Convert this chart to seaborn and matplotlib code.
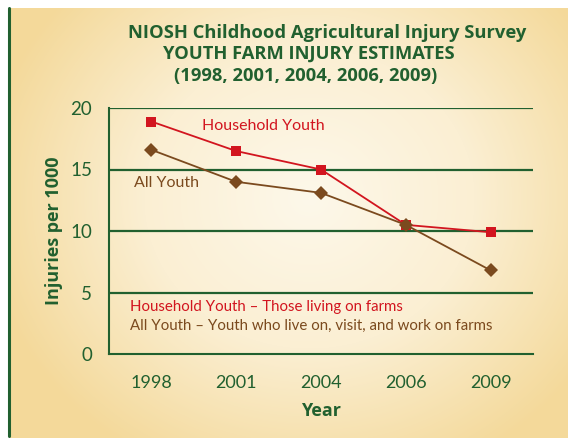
import numpy as np
import pandas as pd
import matplotlib
matplotlib.use('Agg')
import matplotlib.pyplot as plt
from matplotlib.colors import LinearSegmentedColormap
from matplotlib.lines import Line2D
import seaborn as sns

# data
years = ['1998', '2001', '2004', '2006', '2009']
household_youth = [18.9, 16.5, 15.0, 10.5, 9.9]
all_youth = [16.6, 14.0, 13.1, 10.5, 6.8]

GREEN = '#21602f'
RED = '#d2151f'
BROWN = '#7b4a1e'

df = pd.DataFrame({
    'Year': years * 2,
    'Rate': household_youth + all_youth,
    'Group': ['Household Youth'] * 5 + ['All Youth'] * 5,
})

sns.set_style('white')
plt.rcParams['font.family'] = ['Lato', 'DejaVu Sans']

fig = plt.figure(figsize=(5.68, 4.38), dpi=100)
W, H = 568, 438

# radial cream -> tan background
bg = fig.add_axes([9 / W, 0, 1 - 9 / W, 1 - 8 / H], zorder=-10)
yy, xx = np.mgrid[0:430, 0:559]
d = np.sqrt(((xx - 300) / 330.0) ** 2 + ((yy - 190) / 300.0) ** 2)
cmap = LinearSegmentedColormap.from_list('bg', ['#fdf8ea', '#fbefd3', '#f4d99a'])
bg.imshow(np.clip(d, 0, 1), cmap=cmap, aspect='auto', vmin=0, vmax=1)
bg.axis('off')
fig.add_artist(Line2D([8.5 / W, 8.5 / W], [2 / H, 1 - 8 / H], color=GREEN, lw=2.2))

ax = fig.add_axes([109 / W, 1 - 354 / H, (533 - 109) / W, (354 - 108) / H])
ax.patch.set_alpha(0)

sns.lineplot(data=df, x='Year', y='Rate', hue='Group', style='Group',
             palette={'Household Youth': RED, 'All Youth': BROWN},
             markers={'Household Youth': 's', 'All Youth': 'D'},
             dashes=False, markersize=7, linewidth=1.3,
             markeredgewidth=0, legend=False, ax=ax, zorder=3)

ax.set_xlim(-0.5, 4.5)
ax.set_ylim(0, 20)
ax.set_yticks([0, 5, 10, 15, 20])
ax.set_xticks(range(5))
ax.set_xticklabels(years)
ax.set_xticks(np.arange(-0.5, 5, 1), minor=True)
ax.tick_params(axis='x', which='major', length=0, pad=15, labelsize=13, labelcolor=GREEN)
ax.tick_params(axis='x', which='minor', length=6, width=1.5, color=GREEN, direction='out')
ax.tick_params(axis='y', length=7, width=1.5, color=GREEN, labelsize=13.5, labelcolor=GREEN, pad=5)
for y in [5, 10, 15, 20]:
    ax.axhline(y, color=GREEN, lw=1.6, zorder=1)
sns.despine(ax=ax)
ax.spines['left'].set_color(GREEN)
ax.spines['bottom'].set_color(GREEN)
ax.spines['left'].set_linewidth(1.5)
ax.spines['bottom'].set_linewidth(1.5)

ax.set_xlabel('Year', fontsize=13, fontweight='bold', color=GREEN, labelpad=8,
              family=['Open Sans', 'DejaVu Sans'])
ax.set_ylabel('Injuries per 1000', fontsize=13, fontweight='bold', color=GREEN, labelpad=5,
              family=['Open Sans', 'DejaVu Sans'])

ax.text(0.6, 18.2, 'Household Youth', color=RED, fontsize=11.5)
ax.text(-0.2, 13.6, 'All Youth', color=BROWN, fontsize=11.5)
ax.text(-0.25, 3.5, 'Household Youth \u2013 Those living on farms', color=RED, fontsize=10.8)
ax.text(-0.25, 2.0, 'All Youth \u2013 Youth who live on, visit, and work on farms', color=BROWN, fontsize=10.8)

title_font = dict(color=GREEN, fontsize=13.2, fontweight='bold', va='center',
                  family=['Open Sans', 'DejaVu Sans'])
fig.text(128 / W, 1 - 33 / H, 'NIOSH Childhood Agricultural Injury Survey', **title_font)
fig.text(163 / W, 1 - 54 / H, 'YOUTH FARM INJURY ESTIMATES', **title_font)
fig.text(174 / W, 1 - 76 / H, '(1998, 2001, 2004, 2006, 2009)', **title_font)

fig.savefig('out.png', dpi=100)
